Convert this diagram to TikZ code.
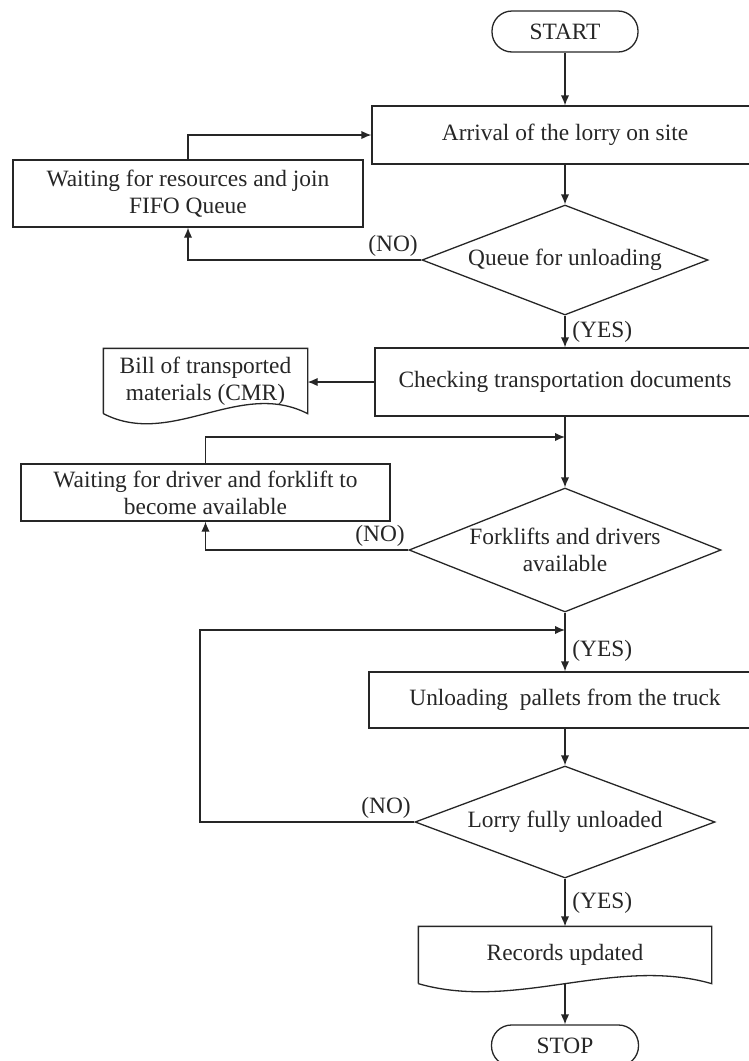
\documentclass[tikz,border=0pt]{standalone}
\usepackage{fontspec}
\setmainfont{Liberation Serif}
\usetikzlibrary{shapes.geometric,arrows.meta}
\begin{document}
\begin{tikzpicture}[x=0.5pt,y=-0.5pt,
  font=\fontsize{11.7}{13.5}\selectfont,
  line width=0.65pt, draw=black!85, text=black!85,
  >={Latex[length=5pt,width=4.2pt]},
  term/.style={draw,rectangle,rounded corners=10pt,minimum width=73pt,minimum height=20.5pt,inner sep=0pt},
  proc/.style={draw,rectangle,minimum height=29pt,inner sep=0pt,align=center},
  dec/.style={draw,diamond,inner sep=0pt},
  doc/.style={rectangle,inner sep=0pt,align=center},
  ans/.style={inner sep=1.5pt}
  ]
\useasboundingbox (0,0) rectangle (749,1061);

% main column
\node[term] (start) at (565,31.5) {START};
\node[proc,minimum width=193pt] (arrive) at (565,135) {Arrival of the lorry on site};
\node[dec,minimum width=143pt,minimum height=55pt,
  label={center:Queue for unloading}] (queue) at (565,260) {};
\node[proc,minimum width=190pt,minimum height=34pt] (check) at (565,382) {Checking transportation documents};
\node[dec,minimum width=156pt,minimum height=62pt,
  label={[align=center]center:Forklifts and drivers\\available}] (forks) at (565,550) {};
\node[proc,minimum width=196pt,minimum height=28pt] (unload) at (565,700) {Unloading\ \ pallets from the truck};
\node[dec,minimum width=150pt,minimum height=56pt,
  label={center:Lorry fully unloaded}] (full) at (565,822) {};
\node[doc,minimum width=146pt,minimum height=28pt] (rec) at (565,955) {Records updated};
\node[term,minimum width=73.5pt] (stop) at (565,1045.5) {STOP};

% side boxes
\node[proc,minimum width=175pt,minimum height=33.5pt] (waitres) at (188,193.5) {Waiting for resources and join\\FIFO Queue};
\node[doc,minimum width=101.5pt,minimum height=32pt] (bill) at (205.5,381) {Bill of transported\\materials (CMR)};
\node[proc,minimum width=184.5pt,minimum height=28.5pt] (waitdrv) at (205.5,492.5) {Waiting for driver and forklift to\\become available};

% document outlines
\draw (bill.south west) -- (bill.north west) -- (bill.north east) -- (bill.south east)
  .. controls +(-68,-35) and +(68,35) .. (bill.south west);
\draw (rec.south west) -- (rec.north west) -- (rec.north east) -- (rec.south east)
  .. controls +(-97,-28) and +(97,28) .. (rec.south west);

\coordinate (join1) at (565,437);
\coordinate (join2) at (565,630);
\coordinate (back) at (200,822);

% connectors
\draw[->] (start) -- (arrive);
\draw[->] (arrive) -- (queue);
\draw[->] (queue) -- node[right] {(YES)} (check);
\draw[->] (queue.west) -| (waitres);
\draw[->] (waitres) |- (arrive);
\draw[->] (check.west) -- (check.west -| bill.east);
\draw[->] (check) -- (forks);
\draw[->] (forks.west) -| (waitdrv);
\draw[->] (waitdrv) |- (join1);
\draw (forks) -- (join2);
\draw[->] (join2) -- node[right] {(YES)} (unload);
\draw[->] (unload) -- (full);
\draw[->] (full.west) -- (back) |- (join2);
\draw[->] (full) -- node[right] {(YES)} (rec);
\draw[->] (rec) -- (stop);

% answer labels
\node[ans,anchor=south east] (no1) at (queue.west) {(NO)};
\node[ans,anchor=south east] (no2) at (forks.west) {(NO)};
\node[ans,anchor=south east] (no3) at (full.west) {(NO)};
\end{tikzpicture}
\end{document}
